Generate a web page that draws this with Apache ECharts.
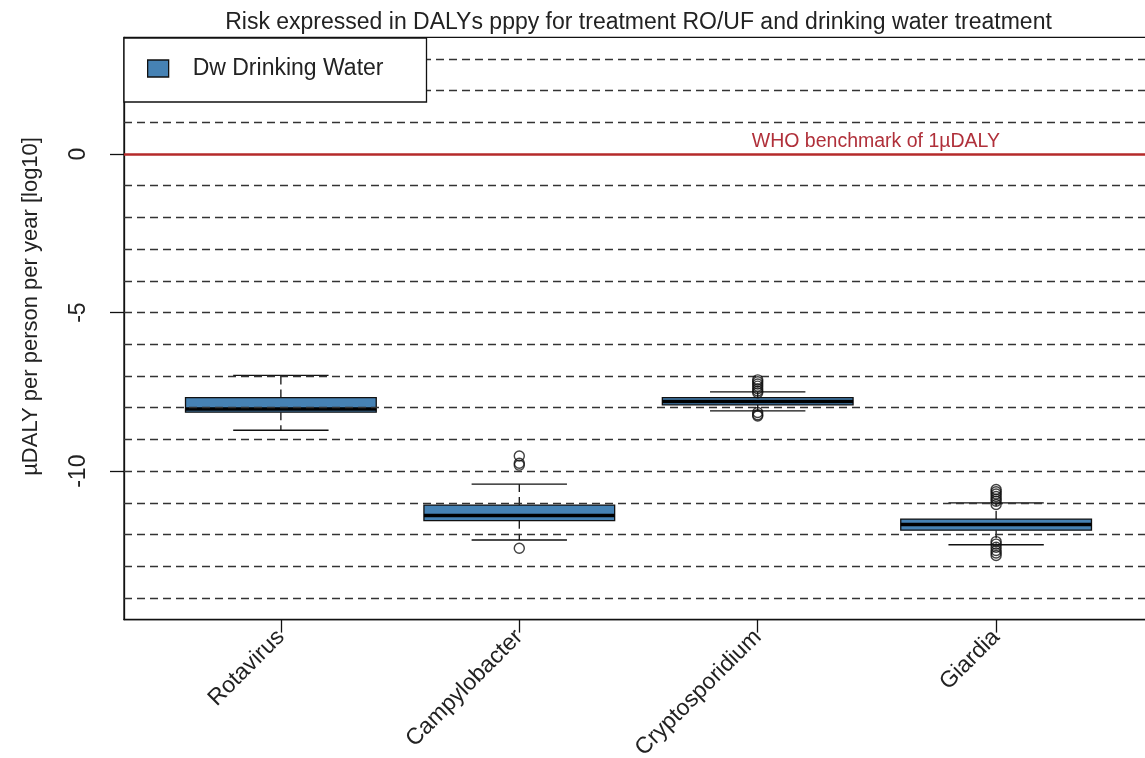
<!DOCTYPE html>
<html>
<head>
<meta charset="utf-8">
<style>
  html, body { margin: 0; padding: 0; background: #fff; }
  #chart { width: 1145px; height: 758px; }
</style>
<script src="https://cdn.jsdelivr.net/npm/echarts@6/dist/echarts.min.js"></script>
</head>
<body>
<div id="chart"></div>
<script>
// pathogens on the x axis
const categories = ["Rotavirus", "Campylobacter", "Cryptosporidium", "Giardia"];
// box stats, log10 µDALY pppy
const whiskerLow = [-8.71, -12.17, -8.1, -12.32];
const q1 = [-8.14, -11.56, -7.91, -11.86];
const median = [-8.04, -11.4, -7.8, -11.68];
const q3 = [-7.68, -11.07, -7.68, -11.51];
const whiskerHigh = [-6.98, -10.41, -7.5, -11.0];
// outlier points per pathogen
const outliers = [
  [],
  [-9.52, -9.75, -9.81, -12.43],
  [-7.12, -7.18, -7.25, -7.32, -7.4, -7.47, -7.53, -8.15, -8.22, -8.26],
  [-10.58, -10.65, -10.72, -10.8, -10.88, -10.95, -11.05, -12.22, -12.3, -12.4, -12.5, -12.58, -12.66]
];
// dashed reference levels
const gridLevels = [-14, -13, -12, -11, -10, -9, -8, -7, -6, -5, -4, -3, -2, -1, 1, 2, 3];
const yTicks = [-10, -5, 0];
const benchmark = 0;

const font = "'Liberation Sans', Arial, sans-serif";
const ink = "#222";
const boxFill = "#4682B4";

let chart = echarts.init(document.getElementById("chart"));

let boxData = categories.map((c, i) => [i + 1, whiskerLow[i], q1[i], median[i], q3[i], whiskerHigh[i]]);
let outlierData = [];
outliers.forEach((list, i) => {
  list.forEach((v) => outlierData.push([i + 1, v]));
});

function renderBox(params, api) {
  let x = api.value(0);
  let lo = api.coord([x, api.value(1)]);
  let b1 = api.coord([x, api.value(2)]);
  let md = api.coord([x, api.value(3)]);
  let b3 = api.coord([x, api.value(4)]);
  let hi = api.coord([x, api.value(5)]);
  let half = api.size([0.4, 0])[0];
  let cap = half / 2;
  let cx = lo[0];
  let thin = { stroke: "#111", lineWidth: 1.3 };
  let dashed = { stroke: "#111", lineWidth: 1.3, lineDash: [8, 5] };
  return {
    type: "group",
    children: [
      { type: "line", shape: { x1: cx, y1: b3[1], x2: cx, y2: hi[1] }, style: dashed },
      { type: "line", shape: { x1: cx, y1: b1[1], x2: cx, y2: lo[1] }, style: dashed },
      { type: "line", shape: { x1: cx - cap, y1: hi[1], x2: cx + cap, y2: hi[1] }, style: thin },
      { type: "line", shape: { x1: cx - cap, y1: lo[1], x2: cx + cap, y2: lo[1] }, style: thin },
      {
        type: "rect",
        shape: { x: cx - half, y: b3[1], width: half * 2, height: b1[1] - b3[1] },
        style: { fill: boxFill, stroke: "#111", lineWidth: 1.3 }
      },
      { type: "line", shape: { x1: cx - half, y1: md[1], x2: cx + half, y2: md[1] }, style: { stroke: "#000", lineWidth: 3.5 } }
    ]
  };
}

let lines = gridLevels.map((v) => ({ yAxis: v }));
lines.push({
  yAxis: benchmark,
  lineStyle: { color: "#b52a2a", type: "solid", width: 2.5 },
  label: {
    show: true,
    formatter: "WHO benchmark of 1µDALY",
    position: "insideEndTop",
    distance: [153, 2],
    color: "#b0303a",
    fontSize: 19.5,
    fontFamily: font
  }
});

let option = {
  backgroundColor: "#fff",
  animation: false,
  title: {
    text: "Risk expressed in DALYs pppy for treatment RO/UF and drinking water treatment",
    left: 638.5,
    textAlign: "center",
    top: 11,
    padding: 0,
    textStyle: { fontSize: 23, fontWeight: "normal", color: ink, fontFamily: font }
  },
  legend: {
    left: 124,
    top: 38,
    orient: "vertical",
    padding: [19, 43, 22, 23],
    itemWidth: 21,
    itemHeight: 17,
    backgroundColor: "#fff",
    borderColor: "#111",
    borderWidth: 1.3,
    borderRadius: 0,
    textStyle: { fontSize: 23, color: ink, fontFamily: font, padding: [0, 0, 0, 19] },
    data: [{ name: "Dw Drinking Water", icon: "rect", itemStyle: { color: boxFill, borderColor: "#111", borderWidth: 1.3 } }]
  },
  grid: {
    left: 124,
    top: 37.3,
    width: 1029,
    height: 582.3,
    show: true,
    backgroundColor: "transparent",
    borderColor: "#111",
    borderWidth: 1.3,
    containLabel: false,
    outerBoundsMode: "none"
  },
  xAxis: {
    type: "value",
    min: 0.342,
    max: 4.658,
    splitLine: { show: false },
    axisLine: { show: true, onZero: false, lineStyle: { color: "#111", width: 1.3 } },
    axisTick: { show: true, customValues: [1, 2, 3, 4], length: 13, lineStyle: { color: "#111", width: 1.3 } },
    axisLabel: {
      customValues: [1, 2, 3, 4],
      formatter: (v) => categories[Math.round(v) - 1],
      rotate: 45,
      margin: 14,
      fontSize: 23,
      color: ink,
      fontFamily: font
    }
  },
  yAxis: {
    type: "value",
    min: -14.68,
    max: 3.68,
    name: "µDALY per person per year [log10]",
    nameLocation: "middle",
    nameGap: 82,
    nameTextStyle: { fontSize: 22, color: ink, fontFamily: font, padding: [0, 0, 0, 44] },
    splitLine: { show: false },
    axisLine: { show: true, onZero: false, lineStyle: { color: "#111", width: 1.3 } },
    axisTick: { show: true, customValues: yTicks, length: 14, lineStyle: { color: "#111", width: 1.3 } },
    axisLabel: { customValues: yTicks, rotate: 90, margin: 34, fontSize: 23, color: ink, fontFamily: font }
  },
  series: [
    {
      name: "Dw Drinking Water",
      type: "custom",
      renderItem: renderBox,
      itemStyle: { color: boxFill },
      encode: { x: 0, y: [1, 2, 3, 4, 5] },
      data: boxData,
      z: 2
    },
    {
      name: "outliers",
      type: "scatter",
      symbol: "circle",
      symbolSize: 10,
      itemStyle: { color: "transparent", borderColor: "#111", borderWidth: 1.4 },
      data: outlierData,
      z: 3,
      markLine: {
        silent: true,
        symbol: ["none", "none"],
        label: { show: false },
        lineStyle: { color: "#333", type: [8, 5], width: 1.3 },
        data: lines,
        z: 3
      }
    }
  ]
};

option && chart.setOption(option);
</script>
</body>
</html>
